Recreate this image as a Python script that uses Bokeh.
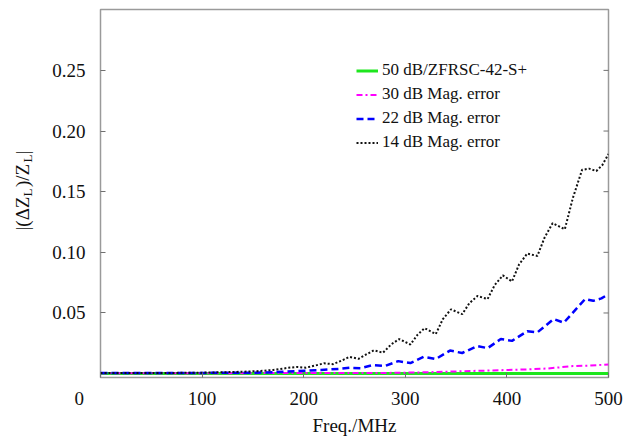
from math import pi
from bokeh.plotting import figure
from bokeh.models import (Range1d, FixedTicker, Legend, LegendItem, Label)
from bokeh.embed import file_html
from bokeh.resources import INLINE

# ---------------- data ----------------
x_ticks = [0, 100, 200, 300, 400, 500]
y_ticks = [0.05, 0.10, 0.15, 0.20, 0.25]
y_tick_labels = ["0.05", "0.10", "0.15", "0.20", "0.25"]

series_names = ["50 dB/ZFRSC-42-S+", "30 dB Mag. error", "22 dB Mag. error", "14 dB Mag. error"]

f_50 = [0, 100, 200, 300, 400, 500]
v_50 = [0.0002, 0.0002, 0.0002, 0.0002, 0.0002, 0.0002]

f_30 = [0, 150, 250, 276, 308, 330, 357, 380, 400, 420, 440, 465, 480, 500]
v_30 = [0.0004, 0.0004, 0.0005, 0.0005, 0.0009, 0.0013, 0.0020, 0.0025, 0.0030,
        0.0035, 0.0042, 0.0062, 0.0065, 0.0076]

f_22 = [0, 100, 150, 170, 192, 205, 217, 236, 245, 256, 268, 280, 293, 305, 318,
        330, 344, 356, 371, 381, 394, 405, 420, 430, 446, 456, 470, 477, 485, 493, 500]
v_22 = [0.0005, 0.0006, 0.0007, 0.0012, 0.0020, 0.0025, 0.0030, 0.0040, 0.0048,
        0.0045, 0.0070, 0.0063, 0.0103, 0.0087, 0.0139, 0.0120, 0.0190, 0.0170,
        0.0227, 0.0210, 0.0285, 0.0270, 0.0350, 0.0340, 0.0450, 0.0420, 0.0550,
        0.0615, 0.0600, 0.0620, 0.0655]

f_14 = [0, 60, 100, 130, 154, 170, 185, 193, 202, 212, 220, 229, 238, 245, 254,
        262, 269, 278, 286, 294, 305, 312, 319, 330, 337, 345, 356, 363, 371, 381,
        388, 396, 405, 412, 420, 430, 437, 445, 457, 465, 474, 481, 488, 494, 500]
v_14 = [0.0005, 0.0005, 0.0008, 0.0013, 0.0020, 0.0030, 0.0048, 0.0055, 0.0049,
        0.0068, 0.0085, 0.0078, 0.0110, 0.0138, 0.0122, 0.0160, 0.0192, 0.0172,
        0.0240, 0.0285, 0.0240, 0.0320, 0.0375, 0.0326, 0.0450, 0.0530, 0.0490,
        0.0580, 0.0640, 0.0615, 0.0730, 0.0810, 0.0760, 0.0900, 0.0990, 0.0970,
        0.1120, 0.1240, 0.1190, 0.1450, 0.1680, 0.1690, 0.1670, 0.1720, 0.1810]

# ---------------- figure ----------------
FONT = "Liberation Serif"
NB = "\u00a0"

p = figure(width=638, height=440, output_backend="svg", toolbar_location=None,
           x_range=Range1d(0, 500), y_range=Range1d(-0.0032, 0.3002),
           min_border_left=100, min_border_right=30, min_border_top=9, min_border_bottom=63)
p.background_fill_color = "white"
p.border_fill_color = "white"
p.outline_line_color = "#9a9a9a"
p.outline_line_width = 1.5
p.xgrid.visible = False
p.ygrid.visible = False

# lines
r50 = p.line(f_50, v_50, line_color="#1ee61e", line_width=3)
r30 = p.line(f_30, v_30, line_color="#ff00ff", line_width=2, line_dash="6 3 2 3")
r22 = p.line(f_22, v_22, line_color="#0000ff", line_width=2.5, line_dash="7 4")
r14 = p.line(f_14, v_14, line_color="#111111", line_width=2, line_dash="2 2")

# right-hand inner ticks (mirror of the y ticks)
p.scatter([500] * len(y_ticks), y_ticks, marker="dash", size=10,
          line_color="#707070", line_width=1)

# axes
xa = p.xaxis[0]
xa.ticker = FixedTicker(ticks=x_ticks)
# the "0" sits left of the frame corner in the reference: pad it with no-break spaces
xa.major_label_overrides = {0: "0" + NB * 9}
xa.axis_label = "Freq./MHz"
ya = p.yaxis[0]
ya.ticker = FixedTicker(ticks=y_ticks)
ya.major_label_overrides = {t: s for t, s in zip(y_ticks, y_tick_labels)}

for ax in (xa, ya):
    ax.axis_line_color = None
    ax.major_tick_in = 5
    ax.major_tick_out = 0
    ax.minor_tick_line_color = None
    ax.major_tick_line_color = "#707070"
    ax.major_label_text_font = FONT
    ax.major_label_text_font_size = "19px"
    ax.major_label_text_color = "#111111"
    ax.axis_label_text_font = FONT
    ax.axis_label_text_font_size = "19px"
    ax.axis_label_text_font_style = "normal"
    ax.axis_label_text_color = "#111111"
xa.major_label_standoff = 10
xa.axis_label_standoff = 3
ya.major_label_standoff = 15

# y-axis label |(ΔZ_L)/Z_L|: main text + subscripts, rotated, in the left panel
main_txt = "|(\u0394Z" + NB * 2 + ")/Z" + NB * 2 + "|"
sub_txt = "L" + NB * 8 + "L"
p.add_layout(Label(x=-6, y=147, x_units="screen", y_units="screen", text=main_txt,
                   angle=pi / 2, text_font=FONT, text_font_size="19px",
                   text_color="#111111", text_align="left", text_baseline="middle"), "left")
p.add_layout(Label(x=14, y=181, x_units="screen", y_units="screen", text=sub_txt,
                   angle=pi / 2, text_font=FONT, text_font_size="13px",
                   text_color="#111111", text_align="left", text_baseline="middle"), "left")

# legend
legend = Legend(items=[LegendItem(label=series_names[0], renderers=[r50]),
                       LegendItem(label=series_names[1], renderers=[r30]),
                       LegendItem(label=series_names[2], renderers=[r22]),
                       LegendItem(label=series_names[3], renderers=[r14])],
                location=(256, 225))
legend.border_line_color = None
legend.background_fill_alpha = 0
legend.padding = 5
legend.margin = 0
legend.spacing = 4
legend.glyph_width = 22
legend.glyph_height = 19
legend.label_height = 19
legend.label_standoff = 4
legend.label_text_font = FONT
legend.label_text_font_size = "17px"
legend.label_text_color = "#111111"
p.add_layout(legend, "center")

open("out.html", "w").write(file_html(p, INLINE))
